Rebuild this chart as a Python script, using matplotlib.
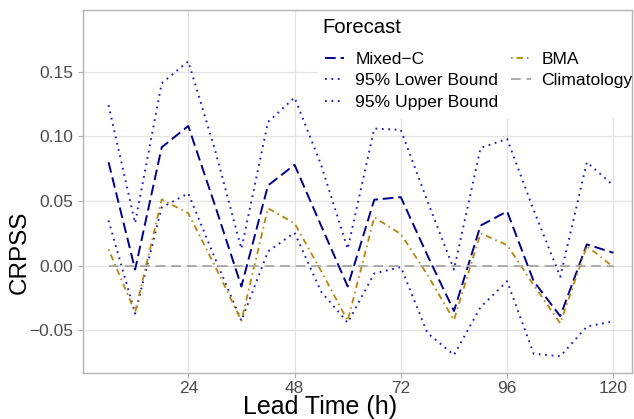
import numpy as np
import matplotlib
matplotlib.use("Agg")
import matplotlib.pyplot as plt
from matplotlib.patches import Rectangle

# datos
lead_time = [6, 12, 18, 24, 30, 36, 42, 48, 54, 60, 66, 72, 78, 84, 90, 96, 102, 108, 114, 120]
mixed_c = [0.080, -0.003, 0.0915, 0.108, 0.047, -0.016, 0.062, 0.078, 0.031, -0.016,
           0.051, 0.053, 0.008, -0.035, 0.031, 0.042, -0.012, -0.039, 0.0165, 0.010]
lower_95 = [0.035, -0.037, 0.045, 0.056, 0.006, -0.0425, 0.011, 0.0255, -0.020, -0.044,
            -0.006, -0.001, -0.052, -0.069, -0.032, -0.012, -0.068, -0.070, -0.047, -0.043]
upper_95 = [0.124, 0.033, 0.141, 0.158, 0.090, 0.013, 0.111, 0.130, 0.078, 0.013,
            0.106, 0.105, 0.050, -0.003, 0.091, 0.098, 0.043, -0.0085, 0.080, 0.062]
bma = [0.0127, -0.036, 0.0513, 0.0405, 0.000, -0.0425, 0.0444, 0.0328, -0.004, -0.0425,
       0.0374, 0.0245, -0.007, -0.042, 0.025, 0.016, -0.015, -0.0445, 0.0152, -0.001]
climatologia = [0.0] * len(lead_time)

x_ticks = [24, 48, 72, 96, 120]
y_ticks = [-0.05, 0.00, 0.05, 0.10, 0.15]
y_labels = ["\u22120.05", "0.00", "0.05", "0.10", "0.15"]

plt.rcParams['font.family'] = ['Liberation Sans', 'DejaVu Sans']

W, H = 634, 419
fig = plt.figure(figsize=(W / 100, H / 100), dpi=100)
left, right, top, bottom = 83.3, 632, 10.3, 373
ax = fig.add_axes([left / W, 1 - bottom / H, (right - left) / W, (bottom - top) / H])

ax.plot(lead_time, mixed_c, color='#00008B', lw=1.4, dashes=(5.5, 2.5), label='Mixed\u2212C')
ax.plot(lead_time, lower_95, color='#1a1ac4', lw=1.4, dashes=(0.9, 2.4), label='95% Lower Bound')
ax.plot(lead_time, upper_95, color='#1a1ac4', lw=1.4, dashes=(0.9, 2.4), label='95% Upper Bound')
ax.plot(lead_time, bma, color='#B8860B', lw=1.3, dashes=(0.9, 2.2, 3.5, 2.2), label='BMA')
ax.plot(lead_time, climatologia, color='#ABABAB', lw=1.4, dashes=(5, 3), label='Climatology')

ax.set_xlim(0.3, 124.2)
ax.set_ylim(-0.0829, 0.1974)
ax.set_xticks(x_ticks)
ax.set_xticklabels([str(t) for t in x_ticks])
ax.set_yticks(y_ticks)
ax.set_yticklabels(y_labels)
ax.grid(True, color='#E3E3E3', lw=0.9)
ax.set_axisbelow(True)
for s in ax.spines.values():
    s.set_color('#B3B3B3')
    s.set_linewidth(1.0)
ax.tick_params(axis='both', colors='#B3B3B3', labelcolor='#4D4D4D', labelsize=12.5,
               length=3.5, width=0.8, pad=3.5)
ax.tick_params(axis='x', pad=2.3)

# fondo blanco de la leyenda (tapa la grilla)
fondo = Rectangle((318 / W, 1 - 118 / H), (right - 318) / W - 0.5 / W, (118 - top - 1) / H,
                  transform=fig.transFigure, facecolor='white', edgecolor='none', zorder=1)
ax.add_patch(fondo)

# titulos de ejes puestos a mano (como en la figura original)
fig.text(320 / W, 1 - 407 / H, 'Lead Time (h)', fontsize=18, ha='center', va='center')
fig.text(20 / W, 1 - 252 / H, 'CRPSS', fontsize=17.5, ha='center', va='center', rotation=90)
fig.text(322 / W, 1 - 27.5 / H, 'Forecast', fontsize=14.6, ha='left', va='center')

leg = ax.legend(ncol=2, loc='upper left',
                bbox_to_anchor=(325 / W, 1 - 51.5 / H), bbox_transform=fig.transFigure,
                frameon=False, fontsize=12.6,
                handlelength=1.1, handletextpad=0.63, columnspacing=0.74,
                labelspacing=0.36, borderpad=0, borderaxespad=0)

fig.savefig('out.png', dpi=100)
